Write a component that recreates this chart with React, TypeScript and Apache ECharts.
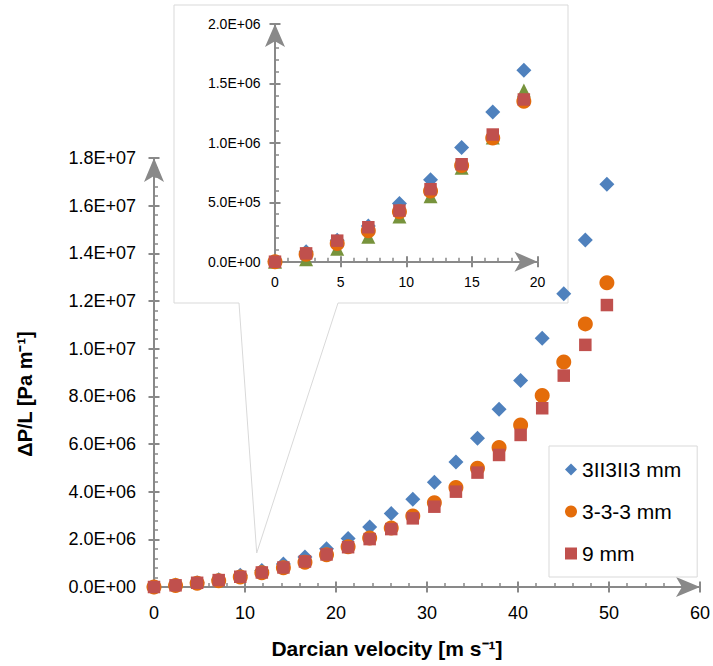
import React, { useEffect, useRef } from "react";
import * as echarts from "echarts";

const UNIT = 1e6;
const velocity = [0, 2.37, 4.74, 7.11, 9.48, 11.85, 14.22, 16.59, 18.96, 21.33, 23.7, 26.07, 28.44, 30.81, 33.18, 35.55, 37.92, 40.29, 42.66, 45.03, 47.4, 49.77];
const seriesNames = ["3II3II3 mm", "3-3-3 mm", "9 mm"];
const dpBlue = [0, 0.084, 0.18, 0.3, 0.49, 0.69, 0.96, 1.26, 1.61, 2.04, 2.52, 3.08, 3.68, 4.39, 5.25, 6.24, 7.46, 8.66, 10.44, 12.3, 14.56, 16.9];
const dpOrange = [0, 0.062, 0.154, 0.26, 0.42, 0.594, 0.81, 1.04, 1.35, 1.69, 2.06, 2.48, 2.98, 3.54, 4.18, 4.98, 5.85, 6.8, 8.03, 9.44, 11.04, 12.77];
const dpRed = [0, 0.07, 0.177, 0.29, 0.43, 0.61, 0.82, 1.07, 1.365, 1.67, 2.01, 2.43, 2.88, 3.37, 4.0, 4.8, 5.54, 6.38, 7.5, 8.87, 10.16, 11.83];
const dpGreenInset = [0, 0.02, 0.11, 0.21, 0.38, 0.55, 0.79, 1.045, 1.44];
const INSET_COUNT = 9;

const FONT = "'Liberation Sans', Arial, Helvetica, sans-serif";
const AXIS_COLOR = "#898989";
const COLORS = { blue: "#4f81bd", orange: "#e46c0a", red: "#c0504d", green: "#77933c" };

function sci(v: number): string {
  const [m, e] = v.toExponential(1).split("e");
  const sign = e[0] === "-" ? "-" : "+";
  const digits = e.replace(/[+-]/, "").padStart(2, "0");
  return `${m}E${sign}${digits}`;
}

function pairs(vals: number[], n?: number) {
  const arr = vals.map((v, i) => [velocity[i], v * UNIT]);
  return n ? arr.slice(0, n) : arr;
}

function mkAxisPair(
  kind: "x" | "y",
  gridIndex: number,
  min: number,
  max: number,
  interval: number,
  fontSize: number,
  margin: number,
  arrowSize: number[],
  formatter?: (v: number) => string
) {
  const main: any = {
    type: "value",
    gridIndex,
    min,
    max,
    interval,
    position: kind === "x" ? "bottom" : "left",
    axisLine: {
      show: true,
      lineStyle: { color: AXIS_COLOR, width: 2 },
      symbol: ["none", "arrow"],
      symbolSize: arrowSize,
    },
    axisTick: { show: true, inside: true, length: 5.5, lineStyle: { color: AXIS_COLOR, width: 2 } },
    minorTick: { show: true, splitNumber: 5, length: 4, lineStyle: { color: AXIS_COLOR, width: 1.5 } },
    axisLabel: {
      show: true,
      fontSize,
      fontFamily: FONT,
      color: "#000",
      margin,
      formatter: formatter ? (v: number) => formatter(v) : undefined,
    },
    splitLine: { show: false },
    minorSplitLine: { show: false },
  };
  const dup: any = {
    type: "value",
    gridIndex,
    min,
    max,
    interval,
    position: kind === "x" ? "bottom" : "left",
    axisLine: { show: false },
    axisTick: { show: true, inside: false, length: 5.5, lineStyle: { color: AXIS_COLOR, width: 2 } },
    minorTick: { show: false },
    axisLabel: { show: false },
    splitLine: { show: false },
  };
  return [main, dup];
}

export default function App() {
  const ref = useRef<HTMLDivElement>(null);

  useEffect(() => {
    document.body.style.margin = "0";
    if (!ref.current) return;
    const chart = echarts.init(ref.current, null, { renderer: "svg" });

    const xMain = mkAxisPair("x", 0, 0, 60, 10, 18, 17, [15, 24]);
    const yMain = mkAxisPair("y", 0, 0, 1.8e7, 2e6, 18, 18, [15, 24], sci);
    const xInset = mkAxisPair("x", 1, 0, 20, 5, 14, 13, [15, 23]);
    const yInset = mkAxisPair("y", 1, 0, 2e6, 5e5, 14, 14.5, [15, 23], sci);

    const option: any = {
      animation: false,
      backgroundColor: "#fff",
      textStyle: { fontFamily: FONT },
      grid: [
        { left: 154, top: 158, width: 546, height: 429, containLabel: false },
        { left: 275, top: 24, width: 262.5, height: 237.7, containLabel: false },
      ],
      xAxis: [...xMain, ...xInset],
      yAxis: [...yMain, ...yInset],
      legend: {
        data: seriesNames,
        orient: "vertical",
        left: 549,
        top: 446,
        padding: [13, 16, 13, 16],
        itemWidth: 12,
        itemHeight: 12,
        itemGap: 21,
        borderColor: "#d9d9d9",
        borderWidth: 1,
        backgroundColor: "#fff",
        textStyle: { fontSize: 21, fontFamily: FONT, color: "#000" },
        selectedMode: false,
      },
      graphic: [
        {
          type: "polygon",
          z: -10,
          shape: {
            points: [
              [174, 5],
              [568, 5],
              [568, 303],
              [338, 303],
              [256.7, 553],
              [239, 303],
              [174, 303],
            ],
          },
          style: { fill: "#fff", stroke: "#d9d9d9", lineWidth: 1 },
        },
        {
          type: "text",
          x: 387,
          y: 648,
          style: {
            text: "Darcian velocity [m s\u207B\u00B9]",
            font: `bold 21px ${FONT}`,
            fill: "#000",
            align: "center",
            verticalAlign: "middle",
            textAlign: "center",
            textVerticalAlign: "middle",
          },
        },
        {
          type: "text",
          x: 25,
          y: 394,
          rotation: Math.PI / 2,
          style: {
            text: "\u0394P/L [Pa m\u207B\u00B9]",
            font: `bold 20px ${FONT}`,
            fill: "#000",
            align: "center",
            verticalAlign: "middle",
            textAlign: "center",
            textVerticalAlign: "middle",
          },
        },
      ],
      series: [
        {
          name: seriesNames[0],
          type: "scatter",
          xAxisIndex: 0,
          yAxisIndex: 0,
          symbol: "diamond",
          symbolSize: 15,
          itemStyle: { color: COLORS.blue, opacity: 1 },
          data: pairs(dpBlue),
          z: 3,
        },
        {
          name: seriesNames[1],
          type: "scatter",
          xAxisIndex: 0,
          yAxisIndex: 0,
          symbol: "circle",
          symbolSize: 15,
          itemStyle: { color: COLORS.orange, opacity: 1 },
          data: pairs(dpOrange),
          z: 4,
        },
        {
          name: seriesNames[2],
          type: "scatter",
          xAxisIndex: 0,
          yAxisIndex: 0,
          symbol: "rect",
          symbolSize: 12.5,
          itemStyle: { color: COLORS.red, opacity: 1 },
          data: pairs(dpRed),
          z: 5,
        },
        {
          name: seriesNames[0],
          type: "scatter",
          xAxisIndex: 2,
          yAxisIndex: 2,
          symbol: "diamond",
          symbolSize: 15,
          itemStyle: { color: COLORS.blue, opacity: 1 },
          data: pairs(dpBlue, INSET_COUNT),
          z: 3,
        },
        {
          name: "inset-green",
          type: "scatter",
          xAxisIndex: 2,
          yAxisIndex: 2,
          symbol: "triangle",
          symbolSize: 14,
          itemStyle: { color: COLORS.green, opacity: 1 },
          data: pairs(dpGreenInset),
          z: 3,
        },
        {
          name: seriesNames[1],
          type: "scatter",
          xAxisIndex: 2,
          yAxisIndex: 2,
          symbol: "circle",
          symbolSize: 15,
          itemStyle: { color: COLORS.orange, opacity: 1 },
          data: pairs(dpOrange, INSET_COUNT),
          z: 4,
        },
        {
          name: seriesNames[2],
          type: "scatter",
          xAxisIndex: 2,
          yAxisIndex: 2,
          symbol: "rect",
          symbolSize: 12.5,
          itemStyle: { color: COLORS.red, opacity: 1 },
          data: pairs(dpRed, INSET_COUNT),
          z: 5,
        },
      ],
    };

    chart.setOption(option);
    return () => chart.dispose();
  }, []);

  return <div ref={ref} style={{ width: 713, height: 666 }} />;
}
